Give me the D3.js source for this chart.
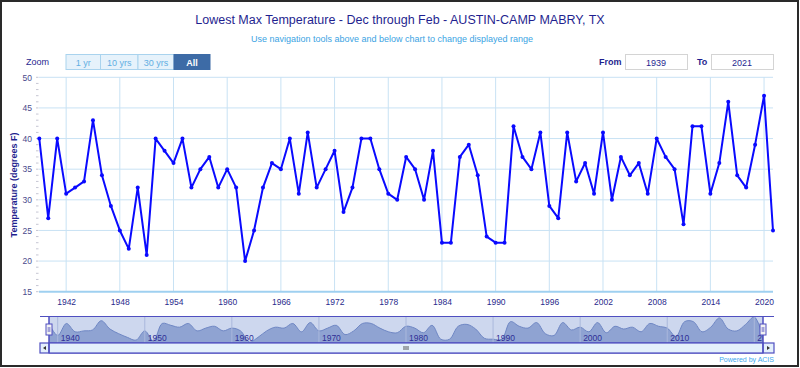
<!DOCTYPE html>
<html><head><meta charset="utf-8">
<script src="https://cdn.jsdelivr.net/npm/d3@7"></script>
<style>html,body{margin:0;padding:0;background:#fff;}svg{display:block;font-family:"Liberation Sans",Arial,sans-serif;}</style>
</head><body><svg id="c" width="800" height="368"></svg>
<script>
const years = d3.range(1939, 2022);
const values = [40,27,40,31,32,33,43,34,29,25,22,32,21,40,38,36,40,32,35,37,32,35,
32,20,25,32,36,35,40,31,41,32,35,38,28,32,40,40,35,31,30,
37,35,30,38,23,23,37,39,34,24,23,23,42,37,35,41,29,27,41,33,
36,31,41,30,37,34,36,31,40,37,35,26,42,42,31,36,46,34,32,39,47,25];
const xTicks = d3.range(1942, 2021, 6);
const yTicks = d3.range(15, 51, 5);
const navTicks = d3.range(1940, 2021, 10);
const zoomButtons = ["1 yr","10 yrs","30 yrs","All"];
const titleText = "Lowest Max Temperature - Dec through Feb - AUSTIN-CAMP MABRY, TX";
const subtitleText = "Use navigation tools above and below chart to change displayed range";
const fromYear = "1939", toYear = "2021";

const data = years.map((y,i)=>({year:y, v:values[i]}));
const svg = d3.select("#c");
const navy = "#1f1f8f";

// frame
svg.append("rect").attr("x",1).attr("y",1).attr("width",797).attr("height",365)
  .attr("fill","#fff").attr("stroke","#2a2a2a").attr("stroke-width",2);

svg.append("text").attr("x",400).attr("y",24).attr("text-anchor","middle")
  .attr("fill",navy).attr("font-size",12.5).text(titleText);
svg.append("text").attr("x",392).attr("y",42).attr("text-anchor","middle")
  .attr("fill","#3ba3e3").attr("font-size",9).text(subtitleText);

// zoom buttons
svg.append("text").attr("x",26).attr("y",65).attr("fill",navy).attr("font-size",9).text("Zoom");
const bx = [66,100.5,138,174,210];
zoomButtons.forEach((b,i)=>{
  const sel = i===3;
  svg.append("rect").attr("x",bx[i]).attr("y",54.5).attr("width",bx[i+1]-bx[i]).attr("height",15)
    .attr("fill", sel?"#3d6ba6":"#e6f2fb").attr("stroke", sel?"#3d6ba6":"#a9d3ee").attr("stroke-width",1);
  svg.append("text").attr("x",(bx[i]+bx[i+1])/2).attr("y",65.5).attr("text-anchor","middle")
    .attr("font-size",9).attr("font-weight",sel?"bold":"normal").attr("fill",sel?"#fff":"#62aee2").text(b);
});
// from/to
svg.append("text").attr("x",599).attr("y",65).attr("fill",navy).attr("font-size",9).attr("font-weight","bold").text("From");
svg.append("rect").attr("x",625.5).attr("y",54.5).attr("width",62).attr("height",15).attr("fill","#fff").attr("stroke","#d4d4d4");
svg.append("text").attr("x",656).attr("y",65.5).attr("text-anchor","middle").attr("fill",navy).attr("font-size",9).text(fromYear);
svg.append("text").attr("x",697).attr("y",65).attr("fill",navy).attr("font-size",9).attr("font-weight","bold").text("To");
svg.append("rect").attr("x",711.5).attr("y",54.5).attr("width",62).attr("height",15).attr("fill","#fff").attr("stroke","#d4d4d4");
svg.append("text").attr("x",742).attr("y",65.5).attr("text-anchor","middle").attr("fill",navy).attr("font-size",9).text(toYear);

// main plot
const x = d3.scaleLinear().domain([1939,2021]).range([39.3,773]);
const y = d3.scaleLinear().domain([15,50]).range([291.7,77.3]);
const grid = "#c8e2f4";
const g = svg.append("g");
g.selectAll(".vg").data(xTicks).join("line").attr("x1",d=>x(d)).attr("x2",d=>x(d))
  .attr("y1",77).attr("y2",292).attr("stroke",grid).attr("stroke-width",1);
g.selectAll(".hg").data(yTicks.filter(d=>d>15)).join("line").attr("x1",39).attr("x2",773)
  .attr("y1",d=>y(d)).attr("y2",d=>y(d)).attr("stroke",grid).attr("stroke-width",1);
g.append("line").attr("x1",39).attr("x2",773).attr("y1",y(15)).attr("y2",y(15)).attr("stroke","#9fd0f0").attr("stroke-width",2);
// minor ticks on y
g.selectAll(".mt").data(d3.range(15,50.01,1)).join("line").attr("x1",36).attr("x2",38.5)
  .attr("y1",d=>y(d)).attr("y2",d=>y(d)).attr("stroke","#b8b8c8").attr("stroke-width",0.8);

const yAxis = d3.axisLeft(y).tickValues(yTicks).tickSize(0).tickPadding(5);
const ya = svg.append("g").attr("transform","translate(37,0)").call(yAxis);
ya.select(".domain").remove();
ya.selectAll("text").attr("fill","#4a4a8c").attr("font-size",8.5).attr("font-family","Liberation Sans, Arial, sans-serif");

const xAxis = d3.axisBottom(x).tickValues(xTicks).tickFormat(d3.format("d")).tickSize(0).tickPadding(7);
const xa = svg.append("g").attr("transform","translate(0,292)").call(xAxis);
xa.select(".domain").remove();
xa.selectAll("text").attr("fill","#2a2a8c").attr("font-size",8.5).attr("font-family","Liberation Sans, Arial, sans-serif");

svg.append("text").attr("transform","translate(17,185) rotate(-90)").attr("text-anchor","middle")
  .attr("fill",navy).attr("font-size",9).attr("font-weight","bold").text("Temperature (degrees F)");

const line = d3.line().x(d=>x(d.year)).y(d=>y(d.v));
svg.append("path").datum(data).attr("d",line).attr("fill","none").attr("stroke","#0a0aff").attr("stroke-width",2).attr("stroke-linejoin","round");
svg.selectAll(".pt").data(data).join("circle").attr("cx",d=>x(d.year)).attr("cy",d=>y(d.v)).attr("r",2).attr("fill","#0a0aff");

// navigator
const nx = d3.scaleLinear().domain([1939,2021]).range([49,763]);
const ny = d3.scaleLinear().domain([20,47]).range([342,317]);
const nav = svg.append("g");
nav.append("clipPath").attr("id","navclip").append("rect").attr("x",49).attr("y",316).attr("width",714).attr("height",27);
nav.append("rect").attr("x",49).attr("y",316.5).attr("width",714).attr("height",26.5).attr("fill","#cdd7ee");
const area = d3.area().x(d=>nx(d.year)).y0(343).y1(d=>ny(d.v)).curve(d3.curveCatmullRom.alpha(0.5));
nav.append("path").datum(data).attr("d",area).attr("fill","#8fa3d2").attr("clip-path","url(#navclip)");
nav.append("path").datum(data).attr("d",area.lineY1()).attr("fill","none").attr("stroke","#6f87c4").attr("stroke-width",1).attr("clip-path","url(#navclip)");
const ng = nav.append("g").attr("clip-path","url(#navclip)");
ng.selectAll("line").data(navTicks).join("line").attr("x1",d=>nx(d)).attr("x2",d=>nx(d)).attr("y1",316).attr("y2",343)
  .attr("stroke","#aab8dc").attr("stroke-width",1);
ng.selectAll("text").data(navTicks).join("text").attr("x",d=>nx(d)+3).attr("y",341).attr("fill","#2e2e96")
  .attr("font-size",8.5).text(d=>d);
// outlines
const oc = "#4f4fc0";
nav.append("line").attr("x1",40).attr("x2",774).attr("y1",316.5).attr("y2",316.5).attr("stroke",oc).attr("stroke-width",1.2);
// scrollbar
nav.append("rect").attr("x",40).attr("y",343).attr("width",734).attr("height",10).attr("fill","#e4f0fc").attr("stroke",oc).attr("stroke-width",1.2);
nav.append("rect").attr("x",49).attr("y",343).attr("width",714).attr("height",10).attr("fill","#e4f0fc").attr("stroke",oc).attr("stroke-width",1.2);
nav.append("line").attr("x1",49).attr("x2",49).attr("y1",316).attr("y2",353).attr("stroke",oc).attr("stroke-width",1.5);
nav.append("line").attr("x1",763).attr("x2",763).attr("y1",316).attr("y2",353).attr("stroke",oc).attr("stroke-width",1.5);
// arrows
nav.append("path").attr("d","M46,346 L46,350 L43,348 Z").attr("fill","#333");
nav.append("path").attr("d","M767,346 L767,350 L770,348 Z").attr("fill","#333");
// grip
[-2,0,2].forEach(o=>nav.append("line").attr("x1",406+o).attr("x2",406+o).attr("y1",346).attr("y2",350).attr("stroke","#333").attr("stroke-width",0.8));
// handles
[49,763].forEach(hx=>{
  nav.append("rect").attr("x",hx-3).attr("y",324).attr("width",6).attr("height",11).attr("fill","#f2f2f2").attr("stroke",oc).attr("stroke-width",1);
  nav.append("line").attr("x1",hx-0.8).attr("x2",hx-0.8).attr("y1",327).attr("y2",332).attr("stroke",oc).attr("stroke-width",0.7);
  nav.append("line").attr("x1",hx+0.8).attr("x2",hx+0.8).attr("y1",327).attr("y2",332).attr("stroke",oc).attr("stroke-width",0.7);
});
svg.append("text").attr("x",774).attr("y",362).attr("text-anchor","end").attr("fill","#3ea8ee").attr("font-size",7).text("Powered by ACIS");
</script></body></html>
